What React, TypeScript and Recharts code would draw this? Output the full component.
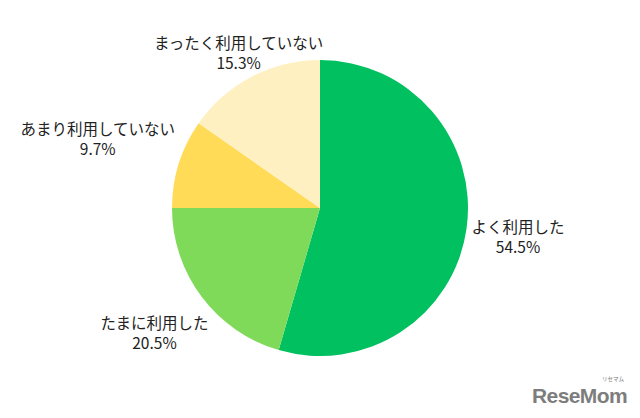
import React from "react";
import { PieChart, Pie, Cell } from "recharts";

const categories = ["よく利用した", "たまに利用した", "あまり利用していない", "まったく利用していない"];
const shares = [54.5, 20.5, 9.7, 15.3];
const colors = ["#00c060", "#80da5a", "#ffdb58", "#fff0c2"];
// distance of each label's centre from the pie centre
const labelDistance = [200, 207, 233, 176];

const data = categories.map((name, i) => ({ name, value: shares[i] }));

const RAD = Math.PI / 180;

const renderLabel = (props: any) => {
  const { cx, cy, midAngle, index } = props;
  const d = labelDistance[index];
  const x = cx + d * Math.cos(-midAngle * RAD);
  const y = cy + d * Math.sin(-midAngle * RAD);
  return (
    <text
      x={x}
      y={y}
      textAnchor="middle"
      fill="#222"
      fontSize={15.5}
      fontFamily="'Noto Sans CJK JP', 'Noto Sans', sans-serif"
    >
      <tspan x={x} dy={-10} dominantBaseline="central">
        {categories[index]}
      </tspan>
      <tspan x={x} dy={20} dominantBaseline="central">
        {shares[index].toFixed(1)}%
      </tspan>
    </text>
  );
};

export default function App() {
  return (
    <div style={{ position: "absolute", left: 0, top: 0, width: 640, height: 418, background: "#fff" }}>
      <PieChart width={640} height={418} margin={{ top: 0, right: 0, bottom: 0, left: 0 }}>
        <Pie
          data={data}
          dataKey="value"
          nameKey="name"
          cx={320}
          cy={208}
          outerRadius={148}
          startAngle={90}
          endAngle={-270}
          stroke="none"
          label={renderLabel}
          labelLine={false}
          isAnimationActive={false}
        >
          {data.map((d, i) => (
            <Cell key={d.name} fill={colors[i]} />
          ))}
        </Pie>
        <text
          x={532}
          y={403}
          fill="#7d7d7d"
          fontSize={21}
          fontWeight="bold"
          letterSpacing={-0.6}
          fontFamily="'Liberation Sans', Arial, sans-serif"
        >
          ReseMom
        </text>
        <text
          x={613}
          y={381}
          textAnchor="middle"
          fill="#7d7d7d"
          fontSize={5.5}
          fontFamily="'Noto Sans CJK JP', sans-serif"
        >
          リセマム
        </text>
      </PieChart>
    </div>
  );
}
